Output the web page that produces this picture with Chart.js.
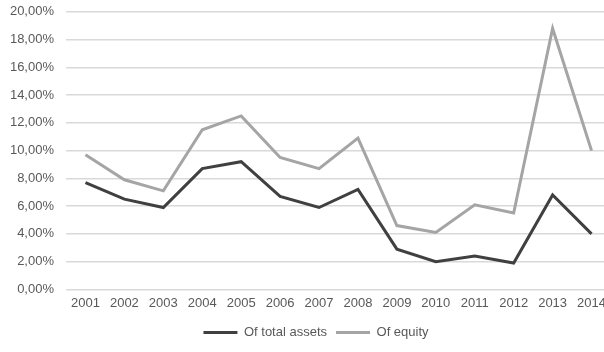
<!DOCTYPE html>
<html>
<head>
<meta charset="utf-8">
<script src="https://cdn.jsdelivr.net/npm/chart.js@4.4.1/dist/chart.umd.min.js"></script>
<style>
  html, body { margin: 0; padding: 0; background: #fff; overflow: hidden; }
  #wrap { position: relative; width: 604px; height: 352px; overflow: hidden; }
  #chart { position: absolute; left: 0; top: -8px; }
</style>
</head>
<body>
<div id="wrap"><canvas id="chart" width="612" height="363"></canvas></div>
<script>
// datos
const years = ["2001", "2002", "2003", "2004", "2005", "2006", "2007", "2008", "2009", "2010", "2011", "2012", "2013", "2014"];
const ofTotalAssets = [7.7, 6.5, 5.9, 8.7, 9.2, 6.7, 5.9, 7.2, 2.9, 2.0, 2.4, 1.9, 6.8, 4.0];
const ofEquity = [9.7, 7.9, 7.1, 11.5, 12.5, 9.5, 8.7, 10.9, 4.6, 4.1, 6.1, 5.5, 18.8, 10.0];
const seriesLabels = ["Of total assets", "Of equity"];

document.addEventListener('DOMContentLoaded', () => {
  const textColor = '#595959';
  Chart.defaults.font.family = '"Liberation Sans", Arial, sans-serif';
  Chart.defaults.font.size = 13;
  Chart.defaults.color = textColor;

  // no recortar las etiquetas del eje Y al ancho del eje
  const LinearScale = Chart.registry.getScale('linear');
  LinearScale.prototype._computeLabelArea = function () { return undefined; };

  new Chart(document.getElementById('chart'), {
    type: 'line',
    data: {
      labels: years,
      datasets: [
        {
          label: seriesLabels[0],
          data: ofTotalAssets,
          borderColor: '#404040',
          backgroundColor: '#404040',
          borderWidth: 3,
          pointRadius: 0,
          tension: 0
        },
        {
          label: seriesLabels[1],
          data: ofEquity,
          borderColor: '#a5a5a5',
          backgroundColor: '#a5a5a5',
          borderWidth: 3,
          pointRadius: 0,
          tension: 0
        }
      ]
    },
    options: {
      responsive: false,
      animation: false,
      layout: { padding: { top: 4, left: 20, right: 0, bottom: 6 } },
      plugins: {
        tooltip: { enabled: false },
        legend: {
          position: 'bottom',
          labels: {
            usePointStyle: true,
            pointStyle: 'line',
            pointStyleWidth: 34,
            padding: 9,
            color: textColor
          }
        }
      },
      scales: {
        x: {
          offset: true,
          grid: { display: false, drawTicks: false },
          border: { display: false },
          ticks: { padding: 6, maxRotation: 0, autoSkip: false }
        },
        y: {
          min: 0,
          max: 20,
          ticks: {
            stepSize: 2,
            padding: 12,
            callback: v => v.toFixed(2).replace('.', ',') + '%'
          },
          grid: { color: '#d9d9d9', lineWidth: 1.5, drawTicks: false },
          border: { display: false },
          // ancho fijo del eje para que el area empiece en x=66
          afterFit: scale => { scale.width = 46; }
        }
      }
    }
  });
});
</script>
</body>
</html>
